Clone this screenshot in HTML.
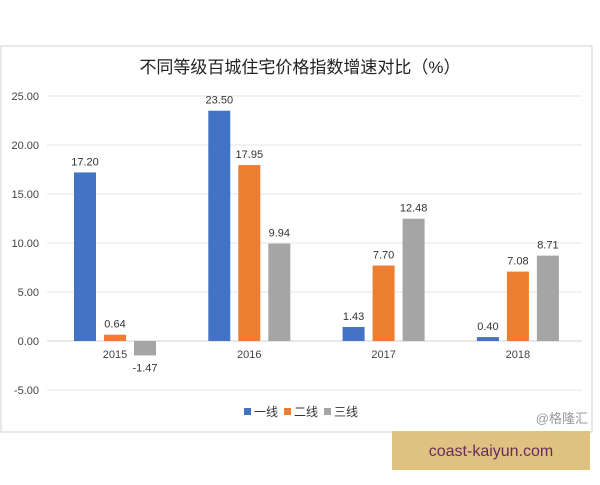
<!DOCTYPE html>
<html><head><meta charset="utf-8"><style>
body{margin:0;width:600px;height:480px;background:#fff;overflow:hidden;font-family:"Liberation Sans","Noto Sans CJK SC",sans-serif}
</style></head><body>
<svg width="600" height="480" xmlns="http://www.w3.org/2000/svg">
<rect x="1" y="46" width="591" height="386" fill="#fff" stroke="#d0d0d0"/>
<text x="300" y="73" text-anchor="middle" font-size="17" fill="#222" font-family="Liberation Sans, Noto Sans CJK SC, sans-serif">不同等级百城住宅价格指数增速对比（%）</text>
<g id="grid"></g><g id="bars"></g><g id="labels"></g>
<g font-size="12" fill="#333">
<rect x="244" y="408" width="7" height="7" fill="#4472c4"/><text x="254" y="416">一线</text>
<rect x="284" y="408" width="7" height="7" fill="#ed7d31"/><text x="294" y="416">二线</text>
<rect x="324" y="408" width="7" height="7" fill="#a5a5a5"/><text x="334" y="416">三线</text>
</g>
<text x="588" y="423" text-anchor="end" font-size="13" fill="#999">@格隆汇</text>
<rect x="392" y="431" width="198" height="39" fill="#dfc282"/>
<text x="491" y="456" text-anchor="middle" font-size="16" fill="#6a2a5e">coast-kaiyun.com</text>
</svg>
<script>
const categories=["2015","2016","2017","2018"];
const tier1=[17.20,23.50,1.43,0.40];
const tier2=[0.64,17.95,7.70,7.08];
const tier3=[-1.47,9.94,12.48,8.71];
const ticks=[25,20,15,10,5,0,-5];
const series=[tier1,tier2,tier3];
const colors=["#4472c4","#ed7d31","#a5a5a5"];
const names=["tier1","tier2","tier3"];
const NS="http://www.w3.org/2000/svg";
function y(v){return 341-v*9.8;}
function xc(i){return 115+i*134.3;}
const grid=document.getElementById('grid'),bars=document.getElementById('bars'),labels=document.getElementById('labels');
function mk(tag,attrs,parent,txt){const e=document.createElementNS(NS,tag);for(const k in attrs)e.setAttribute(k,attrs[k]);if(txt!==undefined)e.textContent=txt;parent.appendChild(e);return e;}
ticks.forEach(t=>{
 const l=mk('line',{x1:47,x2:582,y1:y(t),y2:y(t),stroke:t===0?'#d0d0d0':'#e6e6e6'},grid);
 
 
 const tx=mk('text',{x:39,y:y(t)+4,'text-anchor':'end','font-size':11,fill:'#444'},grid,t.toFixed(2));
 
 
});
categories.forEach((c,i)=>{
 const tx=mk('text',{x:xc(i),y:358,'text-anchor':'middle','font-size':11,fill:'#444'},labels,c);
 
 
 series.forEach((s,j)=>{
  const v=s[i],cx=xc(i)+(j-1)*30,w=22;
  const top=Math.min(y(v),y(0)),h=Math.abs(y(v)-y(0));
  const r=mk('rect',{x:cx-w/2,y:top,width:w,height:h,fill:colors[j]},bars);
  
  
  const ly=v>=0?y(v)-7:y(v)+16;
  const vt=mk('text',{x:cx,y:ly,'text-anchor':'middle','font-size':11,fill:'#333'},labels,v.toFixed(2));
  
  
 });
});
</script>
</body></html>
